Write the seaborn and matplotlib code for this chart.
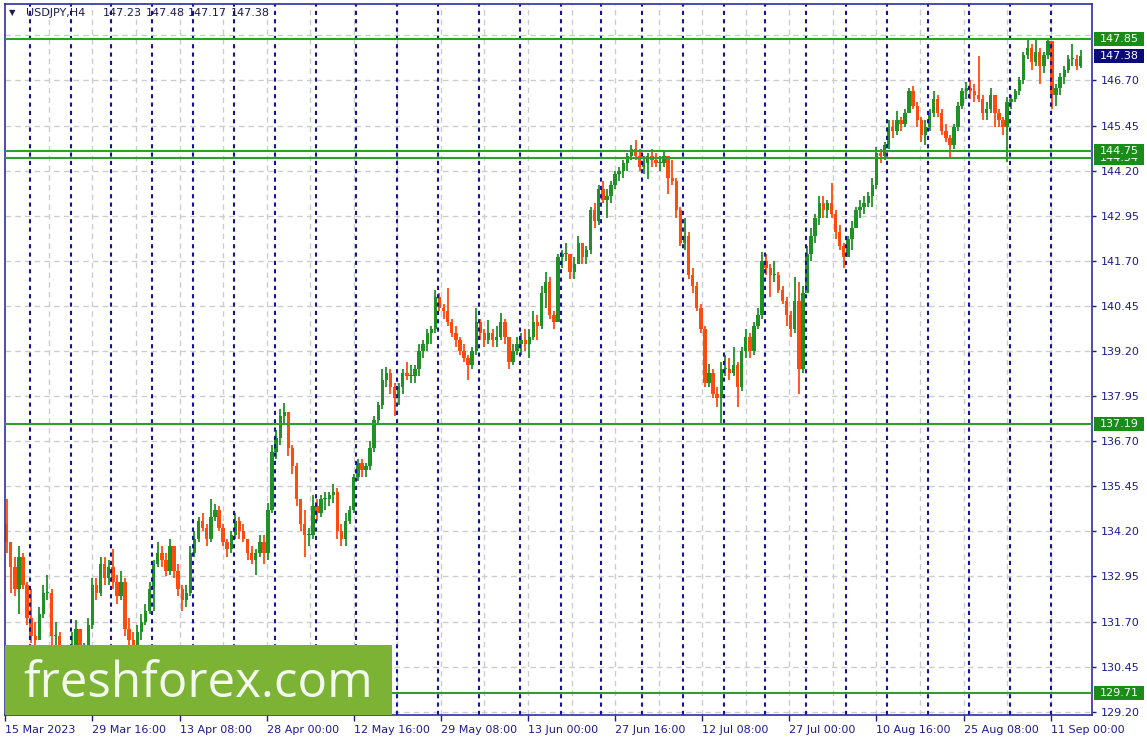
import matplotlib
matplotlib.use("Agg")
import matplotlib.pyplot as plt
import matplotlib.patches as patches
import seaborn as sns

# USDJPY, 12-hour candles (open = previous close)
first_open = 134.4
closes = [
    133.9, 133.2, 132.6, 133.5, 132.7, 131.8, 131.3, 131.2, 131.9, 132.5,
    132.5, 131.3, 131.3, 130.6, 130.2, 130.7, 131.0, 131.5, 130.9, 130.9,
    131.6, 132.7, 132.5, 133.3, 132.9, 133.2, 132.8, 132.4, 132.8, 131.5,
    131.2, 131.0, 131.4, 131.7, 132.0, 132.6, 133.3, 133.6, 133.4, 133.1,
    133.8, 133.1, 132.6, 132.3, 132.5, 133.6, 134.0, 134.5, 134.3, 134.0,
    134.6, 134.8, 134.3, 133.9, 133.7, 134.1, 134.5, 134.2, 134.0, 133.6,
    133.4, 133.6, 133.9, 133.6, 134.8, 136.4, 136.8, 137.4, 137.5, 136.5,
    136.0, 135.1, 134.4, 134.1, 134.1, 134.9, 134.7, 135.1, 135.1, 135.2,
    135.3, 134.2, 134.0, 134.5, 134.8, 135.7, 136.1, 135.9, 136.0, 136.5,
    137.3, 137.7, 138.4, 138.6, 138.2, 137.9, 138.2, 138.6, 138.5, 138.5,
    138.7, 139.2, 139.4, 139.7, 139.8, 140.7, 140.4, 140.3, 140.0, 139.7,
    139.5, 139.2, 139.0, 138.8, 139.2, 140.0, 139.7, 139.5, 139.7, 139.5,
    139.6, 140.0, 139.6, 138.9, 139.2, 139.4, 139.5, 139.4, 139.6, 140.0,
    139.9, 140.8, 141.1, 140.2, 140.0, 141.8, 141.9, 141.9, 141.4, 141.6,
    142.2, 141.8, 142.0, 143.1, 142.8, 143.7, 143.4, 143.5, 143.8, 144.1,
    144.2, 144.4, 144.6, 144.8, 144.6, 144.3, 144.4, 144.6, 144.5, 144.4,
    144.4, 144.6, 144.0, 143.9, 143.1, 142.2, 142.4, 141.3, 141.0, 140.4,
    139.8, 138.3, 138.6, 138.0, 137.9, 138.7, 138.7, 138.6, 138.8, 138.2,
    139.2, 139.6, 139.2, 139.9, 140.2, 141.7, 141.5, 141.3, 141.3, 140.9,
    140.6, 140.2, 139.8, 140.6, 138.7, 140.8, 141.9, 142.4, 142.9, 143.3,
    143.1, 143.3, 143.0, 142.5, 142.1, 141.8, 142.3, 142.6, 143.1, 143.2,
    143.3, 143.5, 143.8, 144.7, 144.6, 144.9, 145.4, 145.3, 145.6, 145.5,
    145.8, 146.4, 146.0, 145.6, 145.2, 145.4, 145.8, 146.2, 145.8, 145.3,
    145.1, 144.9, 145.4, 146.0, 146.4, 146.5, 146.4, 146.3, 146.2, 145.8,
    145.9, 146.3, 145.8, 145.6, 145.4, 146.1, 146.2, 146.4, 146.7, 147.4,
    147.6, 147.2, 147.5, 147.1, 147.4, 147.8, 146.3, 146.5, 146.8, 147.0,
    147.3, 147.3, 147.1, 147.38,
]
highs = [
    135.1, 133.8, 133.5, 133.8, 133.6, 132.8, 132.6, 131.7, 132.1, 132.7,
    133.0, 132.6, 131.7, 131.4, 130.9, 130.9, 131.4, 131.75, 131.5, 131.1,
    131.8, 132.9, 132.9, 133.5, 133.5, 133.4, 133.7, 133.0, 133.1, 132.9,
    131.8, 131.4, 131.6, 131.9, 132.2, 132.8, 133.4, 133.9, 133.8, 133.6,
    134.0, 133.8, 133.3, 132.7, 132.7, 133.8, 134.2, 134.6, 134.7, 134.4,
    135.1, 134.95, 134.9, 134.4, 134.0, 134.2, 134.7, 134.6, 134.4, 134.0,
    133.8, 133.7, 134.1, 134.1, 135.0, 136.6, 137.0, 137.6, 137.77, 137.5,
    136.6, 136.1, 135.1, 134.8, 134.3, 135.2, 135.1, 135.2, 135.3, 135.3,
    135.5, 135.4, 134.4, 134.7, 134.9, 135.8, 136.2, 136.2, 136.1, 136.7,
    137.4, 137.8, 138.7, 138.75, 138.7, 138.3, 138.3, 138.7, 138.9, 138.8,
    138.8, 139.4, 139.5, 139.8, 139.9, 140.9, 140.8, 140.5, 140.95, 140.1,
    139.9, 139.6, 139.4, 139.1, 139.3, 140.4, 140.1, 139.8, 140.05, 139.8,
    139.9, 140.25, 140.1, 139.6, 139.4, 139.6, 139.7, 139.8, 139.8, 140.3,
    140.2, 141.0, 141.4, 141.25, 140.3, 141.9, 142.0, 142.2, 141.9, 141.8,
    142.4, 142.2, 142.1, 143.2, 143.3, 143.8, 143.9, 143.7, 143.9, 144.2,
    144.3, 144.5, 144.7, 144.9, 145.05, 144.8, 144.6, 144.7, 144.8, 144.7,
    144.6, 144.75, 144.6, 144.5, 144.0, 143.2, 142.9, 142.5, 141.5, 141.1,
    140.5, 139.9, 138.85, 138.7, 138.2, 138.9, 139.1, 139.0, 139.3, 138.9,
    139.3, 139.8, 139.7, 140.0, 140.4, 141.95, 141.9, 141.6, 141.7, 141.4,
    141.0, 140.7, 140.3, 141.25, 141.1, 141.0, 142.1, 142.6, 143.0, 143.5,
    143.5, 143.4, 143.85, 143.1, 142.7, 142.2, 142.4, 142.8, 143.2, 143.4,
    143.5, 143.6, 144.0, 144.85, 144.8, 145.0, 145.6, 145.6, 145.84, 145.7,
    145.9, 146.5, 146.55, 146.1, 145.7, 145.6, 145.9, 146.4, 146.3, 145.9,
    145.5, 145.2, 145.5, 146.1, 146.5, 146.65, 146.7, 146.6, 147.37, 146.3,
    146.1, 146.5, 146.3, 145.9, 145.7, 146.25, 146.3, 146.45, 146.8, 147.5,
    147.85, 147.7, 147.85, 147.6, 147.5, 147.87, 147.5, 146.6, 146.9, 147.1,
    147.4, 147.7, 147.4, 147.55,
]
lows = [
    133.6, 132.5, 132.4, 131.9, 132.6, 131.6, 131.1, 130.9, 131.2, 131.8,
    132.3, 130.9, 130.8, 130.4, 129.71, 129.9, 130.6, 130.9, 130.7, 130.4,
    130.8, 131.5, 132.3, 132.4, 132.7, 132.7, 132.6, 132.2, 132.3, 131.3,
    131.0, 130.6, 130.8, 131.2, 131.6, 131.9, 132.0, 133.2, 133.2, 132.95,
    133.0, 132.9, 132.4, 132.0, 132.1, 132.4, 133.5, 133.9, 134.2, 133.8,
    133.9, 134.5, 134.2, 133.8, 133.5, 133.6, 134.0, 134.0, 133.9, 133.4,
    133.3, 133.0, 133.5, 133.3, 133.4, 134.7, 136.2, 136.6, 137.2, 136.3,
    135.8, 134.9, 134.2, 133.5, 133.8, 134.0, 134.5, 134.6, 134.8, 134.9,
    135.0, 134.0, 133.8, 133.8, 134.4, 134.7, 135.6, 135.7, 135.7, 135.9,
    136.4, 137.2, 137.6, 138.2, 138.0, 137.4, 137.7, 138.0, 138.4, 138.3,
    138.3, 138.5, 139.0, 139.2, 139.4, 139.7, 140.3, 140.1, 139.9, 139.6,
    139.3, 139.1, 138.9, 138.4, 138.7, 139.1, 139.5, 139.3, 139.4, 139.3,
    139.3, 139.5, 139.4, 138.7, 138.8, 139.1, 139.1, 139.2, 139.0, 139.5,
    139.5, 139.8, 140.4, 140.1, 139.8, 140.0, 141.5, 141.7, 141.2, 141.2,
    141.6, 141.6, 141.6, 141.9, 142.6, 142.7, 143.3, 142.9, 143.3, 143.7,
    143.9, 144.0, 144.2, 144.5, 144.5, 144.2, 144.1, 143.98, 144.3, 144.3,
    144.2, 144.3, 143.56, 143.8, 142.9, 142.1, 142.0, 141.2, 140.8, 140.3,
    139.7, 138.2, 138.2, 137.9, 137.65, 137.2, 138.5, 138.4, 138.5, 137.65,
    138.1, 139.0, 139.0, 139.1, 139.8, 140.1, 141.3, 140.7, 141.1, 140.8,
    140.5, 139.9, 139.6, 139.7, 138.0, 138.6, 140.8, 141.7, 142.2, 142.7,
    142.9, 142.9, 142.9, 142.3, 142.0, 141.5, 141.8, 142.0, 142.6, 142.9,
    143.0, 143.2, 143.2, 143.7, 144.4, 144.5, 144.8, 145.1, 145.2, 145.3,
    145.4, 145.8, 145.9, 145.4, 145.0, 144.91, 145.3, 145.7, 145.7, 145.2,
    145.0, 144.54, 144.8, 145.3, 145.9, 146.2, 146.2, 146.1, 146.1, 145.6,
    145.6, 145.8, 145.4, 145.4, 145.2, 144.45, 145.9, 146.1, 146.3, 146.6,
    147.3, 147.0, 147.1, 146.6, 146.9, 147.3, 145.9, 146.0, 146.3, 146.6,
    146.9, 147.1, 147.0, 147.05,
]

# trading-day offsets from 15 Mar 2023 00:00 for the time-axis labels
tick_days = [0, 10 + 16 / 24, 21 + 8 / 24, 32, 42 + 16 / 24, 53 + 8 / 24, 64,
             74 + 16 / 24, 85 + 8 / 24, 96, 106 + 16 / 24, 117 + 8 / 24, 128]
tick_labels = ['15 Mar 2023', '29 Mar 16:00', '13 Apr 08:00', '28 Apr 00:00',
               '12 May 16:00', '29 May 08:00', '13 Jun 00:00', '27 Jun 16:00',
               '12 Jul 08:00', '27 Jul 00:00', '10 Aug 16:00', '25 Aug 08:00',
               '11 Sep 00:00']
monday_days = list(range(3, 129, 5))

# horizontal levels, drawn bottom label first so 144.75 sits on top of 144.54
level_values = [129.71, 137.19, 144.54, 144.75, 147.85]
last_price = 147.38
grid_prices = [round(129.20 + 1.25 * i, 2) for i in range(16)]
price_ticks = grid_prices[:-1]  # 147.95 is hidden under the 147.85 box

navy = '#1c1c8c'
up_col = '#1f9226'
down_col = '#ff4c0c'
level_col = '#2f9e2f'

sns.set_theme(style="white")
plt.rcParams['font.family'] = ['DejaVu Sans']

W, H = 1147, 745
fig = plt.figure(figsize=(W / 100, H / 100), dpi=100)
ax = fig.add_axes([5 / W, 30 / H, 1086.5 / W, 711 / H])

x = [k / 2 + 1 / 6 for k in range(len(closes))]
opens = [first_open] + closes[:-1]
cols, bottoms, heights = [], [], []
for o, c in zip(opens, closes):
    cols.append(up_col if c >= o else down_col)
    bottoms.append(min(o, c))
    heights.append(max(abs(c - o), 0.03))
his = [max(h, o, c) for h, o, c in zip(highs, opens, closes)]
los = [min(l, o, c) for l, o, c in zip(lows, opens, closes)]

ax.vlines(x, los, his, colors=cols, linewidth=1.3, zorder=2)
ax.bar(x, heights, bottom=bottoms, width=0.42, color=cols, linewidth=0, zorder=2)

# grid
for v in grid_prices:
    ax.axhline(v, color='#cdcdcd', lw=1, ls=(0, (4, 3)), zorder=0)
for i in range(1, 26):
    ax.axvline(i * 16 / 3, color='#cdcdcd', lw=1, ls=(0, (4, 3)), zorder=0)
for d in monday_days:
    ax.axvline(d, color='#14149a', lw=1.5, ls=(0, (2, 2)), zorder=2.5)
for v in level_values:
    ax.axhline(v, color=level_col, lw=1.5, zorder=3)

ax.set_xlim(-0.033, 133.0)
ax.set_ylim(129.11, 148.82)

ax.set_xticks(tick_days)
ax.set_xticklabels(tick_labels, ha='left')
ax.yaxis.tick_right()
ax.set_yticks(price_ticks)
ax.set_yticklabels([f'{v:.2f}' for v in price_ticks])
ax.tick_params(axis='x', length=4, width=1, pad=3, colors=navy, labelsize=8,
               bottom=True)
ax.tick_params(axis='y', length=3, width=1, pad=4, colors=navy, labelsize=8,
               right=True, left=False)
for s in ax.spines.values():
    s.set_color('#2e2ea0')
    s.set_linewidth(1.2)

# watermark
ax.add_patch(patches.Rectangle((0, 0), (392 - 5) / 1086.5, 70 / 711,
                               transform=ax.transAxes, color='#7cb335',
                               zorder=5, lw=0))
ax.text((198 - 5) / 1086.5, 18 / 711, 'freshforex.com', transform=ax.transAxes,
        ha='center', va='baseline', color='#f4f9ee', fontsize=35.5,
        family='Open Sans', zorder=6)

# price boxes on the right scale
def price_box(v, face, z):
    y = ax.transData.transform((0, v))[1]
    fig.patches.append(patches.Rectangle((1094 / W, (y - 7) / H), 50 / W, 14 / H,
                                         transform=fig.transFigure, color=face,
                                         lw=0, zorder=z))
    fig.text(1100 / W, y / H, f'{v:.2f}', color='white', fontsize=8,
             va='center', ha='left', zorder=z + 0.1)

for i, v in enumerate(level_values):
    price_box(v, '#1a8c1a', 5 + 0.2 * i)
price_box(last_price, '#0a0a78', 7)

# chart header
fig.text(9 / W, 1 - 13 / H, '\u25bc', color='#1a1a50', fontsize=6, va='center')
header = [('USDJPY,H4', 26), ('147.23', 103), ('147.48', 146),
          ('147.17', 188), ('147.38', 231)]
for txt, px in header:
    fig.text(px / W, 1 - 13 / H, txt, color='#1a1a50', fontsize=8, va='center')

fig.savefig('out.png', dpi=100)
